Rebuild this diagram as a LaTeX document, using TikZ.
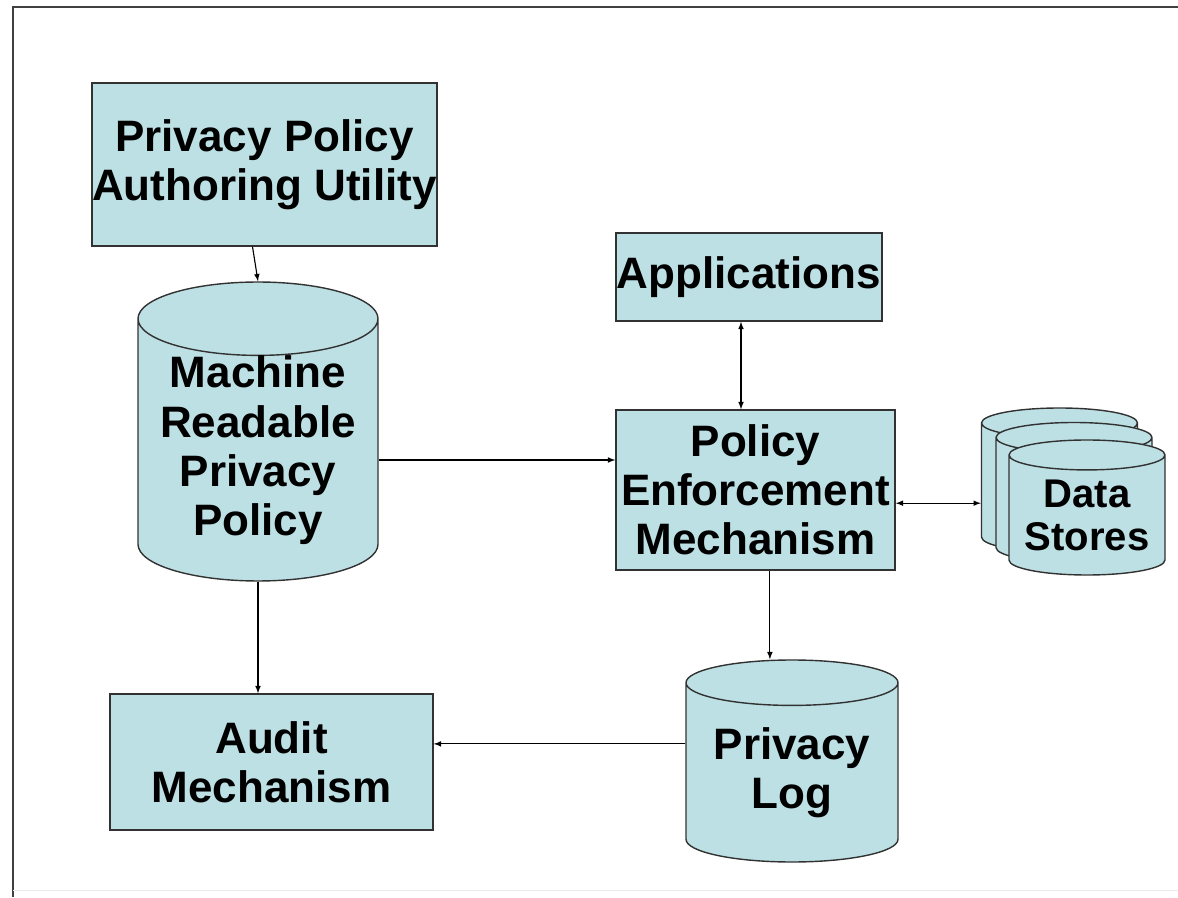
\documentclass[tikz,border=0pt]{standalone}
\usepackage{fontspec}
\setmainfont{Liberation Sans}
\tikzset{>=latex}
\usetikzlibrary{shapes.geometric}
\definecolor{boxfill}{RGB}{189,224,228}
\definecolor{boxline}{RGB}{50,50,50}
\tikzset{
  box/.style={draw=boxline, line width=1pt, fill=boxfill, inner sep=0pt, align=center,
    font=\bfseries\fontsize{31.3}{34.9}\selectfont},
  store/.style={box, cylinder, shape border rotate=90, anchor=shape center},
  smallstore/.style={store, minimum width=3.9cm, aspect=0.24,
    font=\bfseries\fontsize{28.5}{30.6}\selectfont},
  link/.style={line width=0.8pt}
}

\begin{document}
\begin{tikzpicture}
  \useasboundingbox (0,0) rectangle (29.45,22.425);
  \draw[line width=1.2pt, black!75] (0.325,0) -- (0.325,22.25) -- (29.45,22.25);
  \draw[black!8] (0.325,0.175) -- (29.45,0.175);
  \node[box, minimum width=8.475cm, minimum height=4.075cm] (author) at (6.6125,18.3125) {Privacy Policy\\Authoring Utility};
  \node[store, minimum width=6cm, minimum height=7.425cm, aspect=0.375] (policy) at (6.45,11.6375) {Machine\\Readable\\Privacy\\Policy};
  \node[box, minimum width=6.65cm, minimum height=2.2cm] (apps) at (18.725,15.5) {Applications};
  \node[box, minimum width=6.975cm, minimum height=4cm] (pem) at (18.8875,10.175) {Policy\\Enforcement\\Mechanism};
  \node[smallstore, minimum height=3.6cm] (ds1) at (26.4875,10.425) {\phantom{Data}\\\phantom{Stores}};
  \node[smallstore, minimum height=3.5cm] (ds2) at (26.85,10.1125) {\phantom{Data}\\\phantom{Stores}};
  \node[smallstore, minimum height=3.375cm] (ds3) at (27.175,9.7375) {Data\\Stores};
  \node[store, minimum width=5.3cm, minimum height=5.05cm, aspect=0.29] (log) at (19.8,3.4) {Privacy\\Log};
  \node[box, minimum width=8.075cm, minimum height=3.4cm] (audit) at (6.7875,3.375) {Audit\\Mechanism};
  \draw[link,->] ([xshift=-0.3cm]author.south) -- (policy.north);
  \draw[link,->] ([yshift=0.75cm]pem.west -| policy.east) -- ([yshift=0.75cm]pem.west);
  \draw[link,<->] ([xshift=-0.2cm]apps.south) -- ([xshift=-0.2cm]apps.south |- pem.north);
  \draw[link,<->] ([yshift=-0.33cm]pem.east) -- ([yshift=-0.33cm]pem.east -| ds1.west);
  \draw[link,->] ([xshift=0.36cm]pem.south) -- ([xshift=0.36cm]pem.south |- log.north);
  \draw[link,->] (policy.south) -- (policy.south |- audit.north);
  \draw[link,->] ([yshift=0.72cm]log.west) -- ([yshift=0.72cm]log.west -| audit.east);
\end{tikzpicture}
\end{document}
